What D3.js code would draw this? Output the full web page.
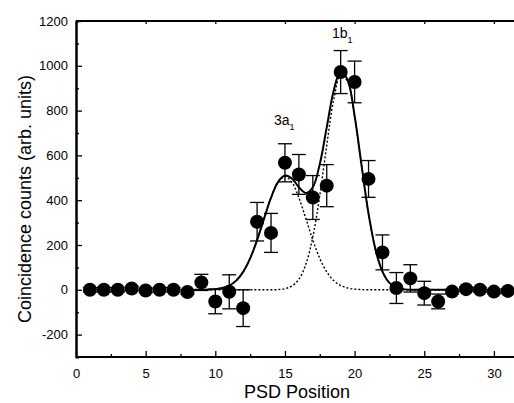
<!DOCTYPE html>
<html>
<head>
<meta charset="utf-8">
<script src="https://cdn.jsdelivr.net/npm/d3@7"></script>
<style>
  body { margin: 0; background: #fff; }
  svg { display: block; }
  text { font-family: "Liberation Sans", Arial, sans-serif; fill: #000; }
</style>
</head>
<body>
<div id="chart"></div>
<script>
// measured points (PSD position, counts, error)
const positions = [1,2,3,4,5,6,7,8,9,10,11,12,13,14,15,16,17,18,19,20,21,22,23,24,25,26,27,28,29,30,31];
const counts = [0,0,0,6,-3,0,0,-10,33,-52,-9,-82,304,254,567,515,412,465,972,928,495,167,8,51,-15,-52,-8,3,0,-8,-5];
const errors = [10,10,10,10,10,10,10,10,36,55,76,82,86,87,85,89,98,94,96,93,82,78,69,61,53,33,10,10,10,10,10];

// fit curves
const fitX = [8.5,9,9.5,10,10.5,11,11.5,12,12.5,13,13.5,14,14.5,15,15.5,16,16.5,17,17.5,18,18.5,19,19.5,20,20.5,21,21.5,22,22.5,23,23.5,24,24.5,25,26,27];
const peak3a1 = [0,0,1,3,8,19,41,80,140,222,318,411,480,505,480,411,318,222,140,80,41,19,8,3,1,0,0,0,0,0,0,0,0,0,0,0];
const peak1b1 = [0,0,0,0,0,0,0,0,0,0,0,0,1,5,17,47,114,236,421,645,848,958,929,774,554,340,180,81,31,10,3,0,0,0,0,0];
const fitSum = [0,0,1,3,8,19,41,80,140,222,318,411,481,510,497,458,432,458,561,725,889,977,937,777,555,340,180,81,31,10,3,0,0,0,0,0];

const xTicks = [0,5,10,15,20,25,30];
const yTicks = [-200,0,200,400,600,800,1000,1200];

const W = 514, H = 403;
const MARGIN = { LEFT: 76, TOP: 21, BOTTOM: 357 };

const svg = d3.select("#chart").append("svg")
  .attr("width", W)
  .attr("height", H);

const x = d3.scaleLinear().domain([0, 32]).range([MARGIN.LEFT, MARGIN.LEFT + 13.93 * 32]);
const y = d3.scaleLinear().domain([-300, 1200]).range([MARGIN.BOTTOM, MARGIN.TOP]);

// axes (ticks pointing inward)
const xMinor = d3.range(0, 32.5, 2.5).filter(v => v % 5 !== 0);
const yMinor = d3.range(-300, 1201, 100).filter(v => v % 200 !== 0);
const plain = d => String(d);

const gx = svg.append("g").attr("transform", `translate(0,${MARGIN.BOTTOM})`);
gx.call(d3.axisBottom(x).tickValues(xTicks).tickFormat(plain).tickSizeInner(-6).tickSizeOuter(0).tickPadding(12));
gx.append("g").call(d3.axisBottom(x).tickValues(xMinor).tickSize(-3).tickFormat(""));

const gy = svg.append("g").attr("transform", `translate(${MARGIN.LEFT},0)`);
gy.call(d3.axisLeft(y).tickValues(yTicks).tickFormat(plain).tickSizeInner(-6).tickSizeOuter(0).tickPadding(8));
gy.append("g").call(d3.axisLeft(y).tickValues(yMinor).tickSize(-3).tickFormat(""));

const gt = svg.append("g").attr("transform", `translate(0,${MARGIN.TOP})`);
gt.call(d3.axisTop(x).tickValues(xTicks).tickSize(-3).tickSizeOuter(0).tickFormat(""));

svg.selectAll(".domain").attr("stroke", "#000").attr("stroke-width", 2);
svg.selectAll(".tick line").attr("stroke", "#000").attr("stroke-width", 1.3);
svg.selectAll(".tick text").attr("font-size", 13).attr("font-family", "Liberation Sans, Arial, sans-serif");
gx.selectAll(".domain").attr("d", `M${MARGIN.LEFT},0H${W + 20}`);
gt.selectAll(".domain").attr("d", `M${MARGIN.LEFT},0H${W + 20}`);

// axis titles
svg.append("text")
  .attr("x", 297).attr("y", 398)
  .attr("text-anchor", "middle")
  .attr("font-size", 18)
  .text("PSD Position");

svg.append("text")
  .attr("transform", "translate(31,199) rotate(-90)")
  .attr("text-anchor", "middle")
  .attr("font-size", 18)
  .text("Coincidence counts (arb. units)");

// fit curves
const fitLine = vals => d3.line()
  .x((d, i) => x(fitX[i]))
  .y(d => y(d))
  .curve(d3.curveCatmullRom)(vals);

svg.append("path").attr("d", fitLine(peak3a1))
  .attr("fill", "none").attr("stroke", "#000").attr("stroke-width", 1.4).attr("stroke-dasharray", "2,2");
svg.append("path").attr("d", fitLine(peak1b1))
  .attr("fill", "none").attr("stroke", "#000").attr("stroke-width", 1.4).attr("stroke-dasharray", "2,2");
svg.append("path").attr("d", fitLine(fitSum))
  .attr("fill", "none").attr("stroke", "#000").attr("stroke-width", 2);

// error bars
const data = positions.map((p, i) => ({ p: p, c: counts[i], e: errors[i] }));
const bars = svg.append("g").attr("stroke", "#000").attr("stroke-width", 1.3);
data.forEach(d => {
  bars.append("line").attr("x1", x(d.p)).attr("x2", x(d.p)).attr("y1", y(d.c - d.e)).attr("y2", y(d.c + d.e));
  [d.c - d.e, d.c + d.e].forEach(v => {
    bars.append("line").attr("x1", x(d.p) - 7).attr("x2", x(d.p) + 7).attr("y1", y(v)).attr("y2", y(v));
  });
});

// points
svg.append("g").selectAll("circle")
  .data(data)
  .enter()
  .append("circle")
  .attr("cx", d => x(d.p))
  .attr("cy", d => y(d.c))
  .attr("r", 7)
  .attr("fill", "#000");

// peak labels
function peakLabel(px, py, main, sub) {
  const t = svg.append("text").attr("x", px).attr("y", py).attr("font-size", 14);
  t.append("tspan").text(main);
  t.append("tspan").attr("dy", 5).attr("font-size", 9).text(sub);
}
peakLabel(274, 125, "3a", "1");
peakLabel(332, 38, "1b", "1");
</script>
</body>
</html>
